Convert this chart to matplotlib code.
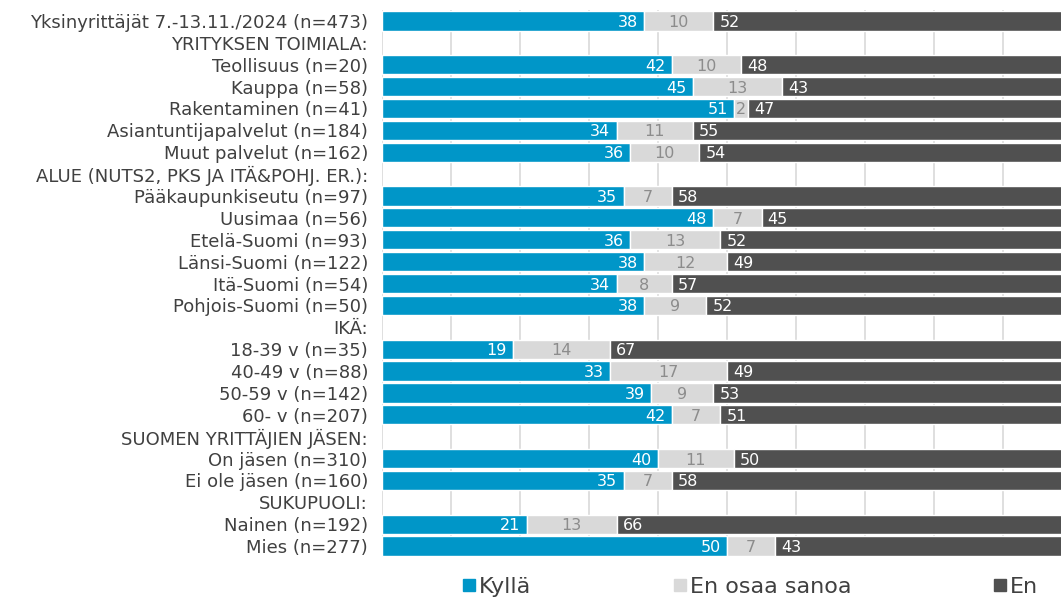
import numpy as np
import matplotlib.pyplot as plt
from matplotlib.lines import Line2D

plt.rcParams['font.family'] = ['DejaVu Sans']

# rows from top to bottom; header rows carry no values (None)
labels = [
    "Yksinyrittäjät 7.-13.11./2024 (n=473)",
    "YRITYKSEN TOIMIALA:",
    "Teollisuus (n=20)",
    "Kauppa (n=58)",
    "Rakentaminen (n=41)",
    "Asiantuntijapalvelut (n=184)",
    "Muut palvelut (n=162)",
    "ALUE (NUTS2, PKS JA ITÄ&POHJ. ER.):",
    "Pääkaupunkiseutu (n=97)",
    "Uusimaa (n=56)",
    "Etelä-Suomi (n=93)",
    "Länsi-Suomi (n=122)",
    "Itä-Suomi (n=54)",
    "Pohjois-Suomi (n=50)",
    "IKÄ:",
    "18-39 v (n=35)",
    "40-49 v (n=88)",
    "50-59 v (n=142)",
    "60- v (n=207)",
    "SUOMEN YRITTÄJIEN JÄSEN:",
    "On jäsen (n=310)",
    "Ei ole jäsen (n=160)",
    "SUKUPUOLI:",
    "Nainen (n=192)",
    "Mies (n=277)",
]
kylla = [38, None, 42, 45, 51, 34, 36, None, 35, 48, 36, 38, 34, 38, None,
         19, 33, 39, 42, None, 40, 35, None, 21, 50]
eos = [10, None, 10, 13, 2, 11, 10, None, 7, 7, 13, 12, 8, 9, None,
       14, 17, 9, 7, None, 11, 7, None, 13, 7]
en = [52, None, 48, 43, 47, 55, 54, None, 58, 45, 52, 49, 57, 52, None,
      67, 49, 53, 51, None, 50, 58, None, 66, 43]

series_names = ["Kyllä", "En osaa sanoa", "En"]
c_kylla = "#0096C8"
c_eos = "#D9D9D9"
c_en = "#505050"

fig = plt.figure(figsize=(10.61, 5.98), dpi=100)
# plot area runs slightly past the right edge of the canvas
ax = fig.add_axes([382 / 1061, 1 - 557 / 598, 690 / 1061, 547 / 598])

y = np.arange(len(labels))
rows = [i for i in y if kylla[i] is not None]
k = np.array([kylla[i] for i in rows], dtype=float)
e = np.array([eos[i] for i in rows], dtype=float)
n = np.array([en[i] for i in rows], dtype=float)
yr = np.array(rows)

h = 0.88
ax.barh(yr, k, height=h, color=c_kylla, edgecolor="white", linewidth=1, zorder=2)
ax.barh(yr, e, left=k, height=h, color=c_eos, edgecolor="white", linewidth=1, zorder=2)
ax.barh(yr, n, left=k + e, height=h, color=c_en, edgecolor="white", linewidth=1, zorder=2)

lab_fs = 11.5
for yi, a, b, c in zip(yr, k, e, n):
    ax.text(a - 0.9, yi, f"{a:.0f}", ha="right", va="center_baseline",
            color="white", fontsize=lab_fs, zorder=3)
    ax.text(a + b / 2, yi, f"{b:.0f}", ha="center", va="center_baseline",
            color="#8C8C8C", fontsize=lab_fs, zorder=3)
    ax.text(a + b + 0.9, yi, f"{c:.0f}", ha="left", va="center_baseline",
            color="white", fontsize=lab_fs, zorder=3)

ax.set_xlim(0, 100)
ax.set_ylim(len(labels) - 0.5, -0.5)
ax.set_xticks(np.arange(0, 101, 10))
ax.xaxis.grid(True, color="#D9D9D9", linewidth=1.2, zorder=0)
ax.set_axisbelow(True)
ax.tick_params(axis="x", length=0, labelbottom=False)
ax.set_yticks(y)
ax.set_yticklabels(labels, fontsize=13, color="#404040")
ax.tick_params(axis="y", length=0, pad=10)
for s in ax.spines.values():
    s.set_visible(False)

handles = [Line2D([], [], marker="s", linestyle="none", markersize=8,
                  markerfacecolor=c, markeredgecolor=c)
           for c in (c_kylla, c_eos, c_en)]
fig.legend(handles, series_names, loc="center", bbox_to_anchor=(750 / 1061, 1 - 587 / 598),
           ncol=3, frameon=False, fontsize=16, handlelength=0.6, handletextpad=0.15,
           columnspacing=6.4, labelcolor="#404040")

fig.savefig("out.png", dpi=100)
